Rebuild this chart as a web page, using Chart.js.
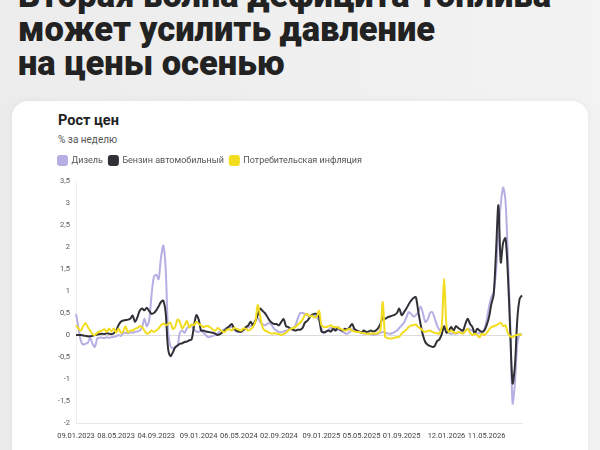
<!DOCTYPE html>
<html lang="ru">
<head>
<meta charset="utf-8">
<script src="https://cdn.jsdelivr.net/npm/chart.js@4.4.1/dist/chart.umd.min.js"></script>
<style>
  html, body { margin: 0; padding: 0; }
  body {
    width: 600px; height: 450px; overflow: hidden; position: relative;
    background: linear-gradient(90deg, #ececec, #f3f3f3);
    font-family: Roboto, "Noto Sans", sans-serif;
  }
  .headline {
    position: absolute; left: 18px; top: -22px;
    font-size: 34.5px; line-height: 34px; font-weight: 900; color: #222;
    letter-spacing: 0;
  }
  .card {
    position: absolute; left: 12px; top: 101px; width: 576px; height: 420px;
    background: #fff; border-radius: 16px; box-shadow: 0 0 8px rgba(0,0,0,0.05);
  }
  .card-title { position: absolute; left: 58px; top: 112px; font-size: 14.5px; font-weight: 700; color: #222; }
  .card-sub { position: absolute; left: 58px; top: 134px; font-size: 10px; color: #555; }
  .chart-box { position: absolute; left: 52px; top: 150px; width: 480px; height: 300px; }
</style>
</head>
<body>
<div class="headline">Вторая волна дефицита топлива<br>может усилить давление<br>на цены осенью</div>
<div class="card"></div>
<div class="card-title">Рост цен</div>
<div class="card-sub">% за неделю</div>
<div class="chart-box"><canvas id="priceChart"></canvas></div>

<script>
// подписи оси X (позиции в неделях от начала ряда)
const tickLabels = ['09.01.2023', '08.05.2023', '04.09.2023', '09.01.2024', '06.05.2024', '02.09.2024',
                    '09.01.2025', '05.05.2025', '01.09.2025', '12.01.2026', '11.05.2026'];
const tickPos = [0, 17, 34, 52, 69, 86, 104, 121, 138, 157, 174];

// Дизель, % за неделю
const diesel = [
  0.48, 0.18, -0.12, -0.22, -0.2, -0.18, -0.06, -0.2, -0.27, -0.08,
  -0.06, -0.06, -0.07, -0.05, -0.06, -0.05, -0.04, -0.03, 0.0, -0.02,
  0.04, 0.05, 0.04, 0.06, 0.05, 0.07, 0.08, 0.1, 0.18, 0.37,
  0.2, 0.33, 0.9, 1.32, 1.37, 1.27, 1.75, 2.03, 1.5, 0.1,
  -0.25, -0.3, -0.28, -0.25, 0.05, 0.1, 0.05, 0.15, 0.2, 0.22,
  0.12, 0.08, 0.07, 0.1, 0.05, 0.0, -0.05, -0.04, -0.02, 0.0,
  0.03, 0.08, 0.1, 0.14, 0.16, 0.18, 0.18, 0.12, 0.08, 0.07,
  0.1, 0.12, 0.15, 0.18, 0.2, 0.25, 0.3, 0.4, 0.3, 0.25,
  0.22, 0.25, 0.27, 0.22, 0.14, 0.1, 0.07, 0.06, 0.08, 0.1,
  0.12, 0.14, 0.15, 0.22, 0.38, 0.5, 0.5, 0.48, 0.45, 0.42,
  0.45, 0.44, 0.4, 0.32, 0.15, 0.04, 0.07, 0.12, 0.16, 0.18,
  0.15, 0.12, 0.1, 0.07, 0.04, 0.03, 0.07, 0.13, 0.12, 0.1,
  0.07, 0.05, 0.03, 0.04, 0.03, 0.02, 0.0, 0.01, 0.03, 0.05,
  0.07, 0.05, 0.04, 0.03, 0.04, 0.07, 0.1, 0.16, 0.22, 0.28,
  0.4, 0.52, 0.48, 0.42, 0.45, 0.52, 0.65, 0.5, 0.3, 0.35,
  0.5, 0.52, 0.38, 0.22, 0.12, 0.1, 0.15, 0.1, 0.05, 0.03,
  0.04, 0.03, 0.05, 0.07, 0.05, 0.1, 0.14, 0.12, 0.1, 0.05,
  0.03, 0.05, 0.08, 0.12, 0.33, 0.63, 0.86, 0.97, 1.46, 2.3,
  2.97, 3.35, 3.05, 1.8, 0.3, -1.55, -1.1, -0.2, 0.02, 0.0
];

// Бензин автомобильный
const gasoline = [
  0.0, 0.0, 0.0, -0.01, -0.02, -0.03, -0.03, -0.02, 0.0, 0.01,
  0.02, 0.03, 0.02, 0.04, 0.03, 0.02, 0.04, 0.1, 0.22, 0.3,
  0.33, 0.34, 0.35, 0.37, 0.44, 0.3, 0.4, 0.55, 0.6, 0.56,
  0.62, 0.55, 0.48, 0.5, 0.56, 0.65, 0.75, 0.78, 0.5, -0.3,
  -0.48, -0.4, -0.28, -0.24, -0.2, -0.19, -0.16, -0.15, -0.12, -0.1,
  0.2, 0.45, 0.35, 0.1, 0.1, 0.08, 0.07, 0.06, 0.05, 0.03,
  0.0, 0.02, 0.06, 0.1, 0.16, 0.2, 0.25, 0.15, 0.1, 0.08,
  0.07, 0.12, 0.18, 0.22, 0.3, 0.22, 0.33, 0.45, 0.6, 0.55,
  0.5, 0.42, 0.33, 0.28, 0.25, 0.25, 0.22, 0.3, 0.36, 0.2,
  0.18, 0.14, 0.12, 0.1, 0.12, 0.12, 0.16, 0.28, 0.32, 0.4,
  0.46, 0.48, 0.48, 0.4, 0.08, 0.06, 0.08, 0.1, 0.08, 0.14,
  0.1, 0.17, 0.12, 0.1, 0.14, 0.12, 0.18, 0.25, 0.14, 0.1,
  0.08, 0.06, 0.1, 0.07, 0.08, 0.1, 0.08, 0.1, 0.15, 0.25,
  0.4, 0.37, 0.4, 0.42, 0.44, 0.46, 0.5, 0.6, 0.45, 0.52,
  0.6, 0.7, 0.78, 0.84, 0.86, 0.55, 0.25, 0.0, -0.16, -0.22,
  -0.25, -0.27, -0.25, -0.14, -0.1, 0.02, 0.2, 0.05, 0.1, 0.18,
  0.1, 0.2, 0.16, 0.12, 0.1, 0.25, 0.37, 0.25, 0.18, 0.04,
  0.14, 0.1, 0.07, 0.1, 0.22, 0.4, 0.7, 0.92, 1.9, 2.95,
  1.65, 2.1, 2.2, 1.4, 0.1, -1.1, -0.7, 0.35, 0.82, 0.9
];

// Потребительская инфляция
const inflation = [
  0.22, 0.15, 0.1, 0.2, 0.27, 0.18, 0.1, 0.02, 0.0, 0.05,
  0.08, 0.1, 0.13, 0.07, 0.15, 0.08, 0.15, 0.05, 0.15, 0.05,
  0.08, 0.2, 0.06, 0.1, 0.1, 0.14, 0.16, 0.2, 0.18, 0.1,
  0.03, 0.05, 0.1, 0.07, 0.1, 0.15, 0.22, 0.26, 0.22, 0.25,
  0.28, 0.14, 0.18, 0.35, 0.3, 0.15, 0.22, 0.32, 0.17, 0.24,
  0.22, 0.3, 0.25, 0.22, 0.18, 0.2, 0.2, 0.17, 0.12, 0.1,
  0.16, 0.12, 0.08, 0.07, 0.12, 0.13, 0.1, 0.16, 0.14, 0.12,
  0.1, 0.15, 0.14, 0.1, 0.13, 0.18, 0.3, 0.68, 0.45, 0.18,
  0.1, 0.08, 0.05, 0.03, 0.04, 0.03, 0.02, 0.0, 0.02, 0.05,
  0.1, 0.14, 0.16, 0.18, 0.24, 0.28, 0.35, 0.45, 0.48, 0.42,
  0.44, 0.4, 0.42, 0.55, 0.22, 0.18, 0.18, 0.2, 0.22, 0.18,
  0.18, 0.17, 0.14, 0.12, 0.1, 0.12, 0.14, 0.1, 0.08, 0.07,
  0.07, 0.05, 0.04, 0.03, 0.03, 0.03, 0.04, 0.03, 0.05, 0.1,
  0.75, -0.04, -0.07, -0.08, -0.08, -0.06, -0.05, -0.04, 0.03, 0.08,
  0.12, 0.18, 0.22, 0.22, 0.24, 0.18, 0.15, 0.1, 0.07, 0.09,
  0.1, 0.07, 0.05, 0.04, 0.03, 0.2, 1.28, 0.2, 0.07, 0.1,
  0.06, 0.04, 0.07, 0.05, 0.03, 0.09, 0.14, 0.05, 0.0, 0.03,
  0.0, -0.05, 0.03, 0.0, 0.05, 0.12, 0.18, 0.2, 0.22, 0.25,
  0.28, 0.2, 0.22, 0.05, -0.03, -0.05, -0.01, 0.0, 0.01, 0.0
];

const weeks = diesel.map((_, i) => i);

// немного места между легендой и графиком
const legendGap = {
  id: 'legendGap',
  beforeInit(chart) {
    const fit = chart.legend.fit;
    chart.legend.fit = function () {
      fit.call(this);
      this.height += 6;
    };
  }
};

const ctx = document.getElementById('priceChart').getContext('2d');
new Chart(ctx, {
  type: 'line',
  data: {
    labels: weeks,
    datasets: [
      { label: 'Дизель', data: diesel, borderColor: '#b5afe3', backgroundColor: '#b5afe3', order: 3 },
      { label: 'Бензин автомобильный', data: gasoline, borderColor: '#303036', backgroundColor: '#303036', order: 2 },
      { label: 'Потребительская инфляция', data: inflation, borderColor: '#f2dc1e', backgroundColor: '#f2dc1e', order: 1 }
    ]
  },
  options: {
    responsive: true,
    maintainAspectRatio: false,
    animation: false,
    layout: { padding: { right: 10 } },
    elements: {
      point: { radius: 0 },
      line: { borderWidth: 2, tension: 0.3 }
    },
    plugins: {
      tooltip: { enabled: false },
      legend: {
        position: 'top',
        align: 'start',
        labels: {
          boxWidth: 9,
          boxHeight: 9,
          padding: 6,
          useBorderRadius: true,
          borderRadius: 2,
          color: '#555',
          font: { family: 'Roboto', size: 9 },
          sort: (a, b) => a.datasetIndex - b.datasetIndex
        }
      }
    },
    scales: {
      x: {
        grid: { display: false },
        border: { display: true, color: '#e8e8e8' },
        afterBuildTicks: (scale) => { scale.ticks = tickPos.map(v => ({ value: v })); },
        afterFit: (scale) => { scale.height = 27; },
        ticks: {
          autoSkip: false,
          maxRotation: 0,
          padding: 1,
          color: '#444',
          font: { family: 'Roboto', size: 7.5 },
          callback: (value) => tickLabels[tickPos.indexOf(value)]
        }
      },
      y: {
        min: -2,
        max: 3.5,
        afterFit: (scale) => { scale.width = 24; },
        border: { display: true, color: '#eeeeee' },
        grid: {
          drawTicks: false,
          color: (c) => c.tick && c.tick.value === 0 ? '#dcdcdc' : 'rgba(0,0,0,0)'
        },
        ticks: {
          stepSize: 0.5,
          padding: 6,
          color: '#555',
          font: { family: 'Roboto', size: 7.5 },
          callback: (v) => String(v).replace('.', ',')
        }
      }
    }
  },
  plugins: [legendGap]
});
</script>
</body>
</html>
